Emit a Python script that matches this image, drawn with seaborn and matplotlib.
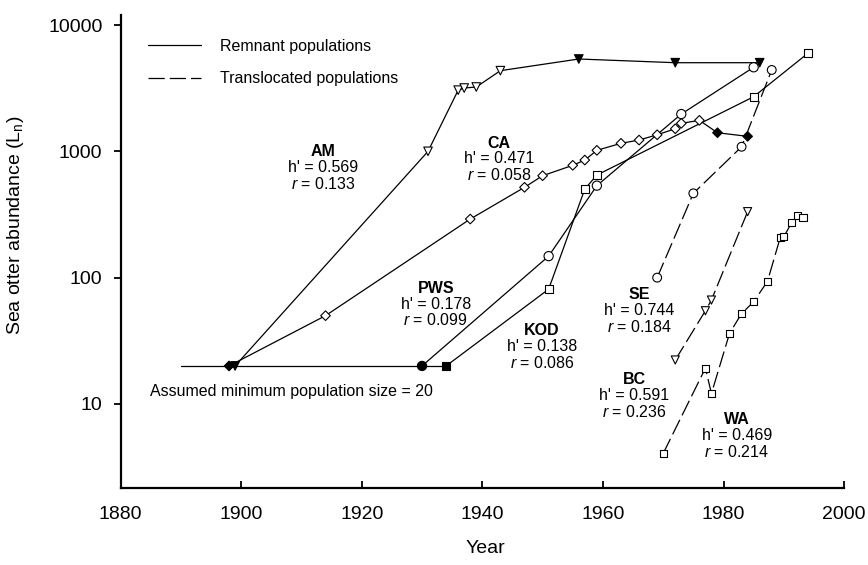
import matplotlib
matplotlib.use("Agg")
import pandas as pd
import matplotlib.pyplot as plt
import seaborn as sns
from matplotlib.lines import Line2D
from matplotlib.ticker import NullLocator

sns.set_style("ticks")
plt.rcParams["font.family"] = ["Liberation Sans", "DejaVu Sans"]
plt.rcParams["mathtext.fontset"] = "custom"
plt.rcParams["mathtext.rm"] = "Liberation Sans"
plt.rcParams["mathtext.it"] = "Liberation Sans:italic"
plt.rcParams["mathtext.bf"] = "Liberation Sans:bold"
for key in ("text.color", "axes.labelcolor", "xtick.color", "ytick.color", "axes.edgecolor"):
    plt.rcParams[key] = "black"

# --- data (year, abundance, filled marker?) -----------------------------
am_year = [1899, 1931, 1936, 1937, 1939, 1943, 1956, 1972, 1986]
am_n = [20, 1000, 3050, 3170, 3230, 4350, 5380, 5030, 5030]
am_fill = [1, 0, 0, 0, 0, 0, 1, 1, 1]

ca_year = [1898, 1914, 1938, 1947, 1950, 1955, 1957, 1959, 1963, 1966,
           1969, 1972, 1973, 1976, 1979, 1984]
ca_n = [20, 50, 291, 519, 641, 775, 853, 1018, 1157, 1228,
        1352, 1509, 1666, 1759, 1403, 1314]
ca_fill = [1, 0, 0, 0, 0, 0, 0, 0, 0, 0, 0, 0, 0, 0, 1, 1]

pws_year = [1930, 1951, 1959, 1973, 1985]
pws_n = [20, 148, 535, 1972, 4627]
pws_fill = [1, 0, 0, 0, 0]

kod_year = [1934, 1951, 1957, 1959, 1985, 1994]
kod_n = [20, 81, 503, 649, 2705, 5975]
kod_fill = [1, 0, 0, 0, 0, 0]

se_year = [1969, 1975, 1983, 1988]
se_n = [100, 465, 1087, 4406]
se_fill = [0, 0, 0, 0]

bc_year = [1972, 1977, 1978, 1984]
bc_n = [22.3, 54.7, 66.5, 333]
bc_fill = [0, 0, 0, 0]

wa_year = [1970, 1977, 1978, 1981, 1983, 1985, 1987.3, 1989.4, 1990,
           1991.3, 1992.3, 1993.2]
wa_n = [4.06, 19.2, 12.1, 36.2, 52, 64.4, 93.6, 207, 211, 272, 309, 300]
wa_fill = [0] * 12

base_year = [1890, 1934]
base_n = [20, 20]

# population: (years, values, fill flags, kind, marker, marker area)
pops = {
    "AM": (am_year, am_n, am_fill, "Remnant", "v", 38),
    "CA": (ca_year, ca_n, ca_fill, "Remnant", "D", 24),
    "PWS": (pws_year, pws_n, pws_fill, "Remnant", "o", 44),
    "KOD": (kod_year, kod_n, kod_fill, "Remnant", "s", 34),
    "SE": (se_year, se_n, se_fill, "Translocated", "o", 40),
    "BC": (bc_year, bc_n, bc_fill, "Translocated", "v", 34),
    "WA": (wa_year, wa_n, wa_fill, "Translocated", "s", 28),
}

rows = [{"pop": "base", "year": y, "n": v, "kind": "Remnant"}
        for y, v in zip(base_year, base_n)]
for name, (yrs, vals, _, kind, _, _) in pops.items():
    rows += [{"pop": name, "year": y, "n": v, "kind": kind} for y, v in zip(yrs, vals)]
lines = pd.DataFrame(rows)

# label blocks: name, h', r, anchor (year, abundance)
labels = [
    ("AM", "0.569", "0.133", 1913.6, 994),
    ("CA", "0.471", "0.058", 1942.8, 1156),
    ("PWS", "0.178", "0.099", 1932.3, 82),
    ("KOD", "0.138", "0.086", 1949.9, 38),
    ("SE", "0.744", "0.184", 1966.1, 73),
    ("BC", "0.591", "0.236", 1965.2, 15.5),
    ("WA", "0.469", "0.214", 1982.2, 7.5),
]

# --- plot ---------------------------------------------------------------
fig = plt.figure(figsize=(8.68, 5.65), dpi=100)
ax = fig.add_axes([120.5 / 868, 1 - 488.3 / 565, 723.6 / 868, 473.3 / 565])
ax.set_yscale("log")

dash = (13, 4)
sns.lineplot(data=lines, x="year", y="n", units="pop", estimator=None, sort=False,
             style="kind", dashes={"Remnant": "", "Translocated": dash},
             color="black", linewidth=0.9, legend=False, ax=ax)

for name, (yrs, vals, fill, kind, m, s) in pops.items():
    face = ["filled" if f else "open" for f in fill]
    sns.scatterplot(x=yrs, y=vals, hue=face, palette={"filled": "black", "open": "white"},
                    marker=m, s=s, edgecolor="black", linewidth=0.8,
                    legend=False, zorder=3, ax=ax)

ax.set_xlim(1880, 2000)
ax.set_ylim(2.15, 12000)
ax.set_xticks(range(1880, 2001, 20))
ax.set_yticks([10, 100, 1000, 10000])
ax.set_yticklabels(["10", "100", "1000", "10000"])
ax.yaxis.set_minor_locator(NullLocator())

sns.despine(ax=ax)
for sp in ("left", "bottom"):
    ax.spines[sp].set_linewidth(1.6)
ax.tick_params(axis="y", direction="out", length=5, width=1.3, labelsize=14, pad=8)
ax.tick_params(axis="x", direction="in", length=5, width=1.3, labelsize=14, pad=13)

ax.set_xlabel("Year", fontsize=14)
ax.set_ylabel("Sea otter abundance (L$_\\mathregular{n}$)", fontsize=14)
ax.xaxis.set_label_coords(0.504, -0.11)
ax.yaxis.set_label_coords(-0.13, 0.556)

for name, h, r, x, y in labels:
    ax.annotate(name, (x, y), ha="center", va="center", fontsize=11.5, fontweight="bold")
    ax.annotate(f"h' = {h}", (x, y), xytext=(0, -11.2), textcoords="offset points",
                ha="center", va="center", fontsize=11.5)
    ax.annotate(f"$r$ = {r}", (x, y), xytext=(0, -23), textcoords="offset points",
                ha="center", va="center", fontsize=11.5)

ax.text(1884.9, 12.5, "Assumed minimum population size = 20",
        ha="left", va="center", fontsize=11.5)

handles = [Line2D([], [], color="black", lw=0.9),
           Line2D([], [], color="black", lw=0.9, dashes=dash)]
ax.legend(handles, ["Remnant populations", "Translocated populations"],
          loc="upper left", bbox_to_anchor=(0.038, 0.95), frameon=False,
          fontsize=11.5, handlelength=3.3, handletextpad=1.2, labelspacing=1.1,
          borderpad=0, borderaxespad=0)

fig.savefig("out.png", dpi=100)
